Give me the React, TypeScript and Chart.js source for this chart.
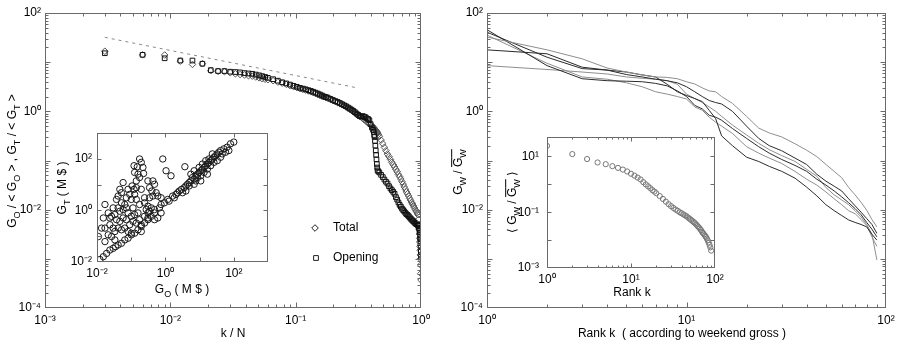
import React, { useEffect, useRef } from 'react';
import { Chart, registerables } from 'chart.js';
Chart.register(...registerables);

const FONT = '"Liberation Sans", Arial, Helvetica, sans-serif';

// ---------------- Left panel: G/<G> versus k/N ----------------
const N_FILMS = 333;
const RANKS_L = [
  1, 2, 3, 4, 5, 6, 7, 8, 9, 10,
  11, 12, 13, 14, 15, 16, 17, 18, 19, 20,
  22, 24, 26, 28, 30, 32, 34, 36, 38, 40,
  42, 44, 46, 48, 50, 52, 54, 56, 58, 60,
  63, 66, 69, 72, 75, 78, 81, 84, 87, 90,
  93, 96, 99, 102, 105, 108, 111, 114, 117, 120,
  123, 126, 129, 132, 135, 138, 140, 141, 142, 143,
  144, 145, 146, 147, 148, 149, 150, 152, 155, 160,
  165, 170, 175, 180, 185, 190, 195, 200, 205, 210,
  215, 220, 225, 230, 235, 240, 245, 250, 255, 260,
  265, 270, 275, 280, 285, 290, 295, 300, 305, 310,
  315, 318, 320, 322, 324, 325, 326, 327, 328, 329,
  330, 331, 332, 333,
];
const OPENING = [
  15.2, 14.1, 12.0, 10.8, 10.8, 9.3, 6.9, 6.6, 6.6, 6.4,
  6.3, 6.2, 6.0, 5.9, 5.8, 5.6, 5.4, 5.2, 5.0, 4.8,
  4.5, 4.2, 3.9, 3.7, 3.5, 3.3, 3.15, 3.0, 2.9, 2.8,
  2.7, 2.6, 2.5, 2.4, 2.3, 2.2, 2.1, 2.0, 1.95, 1.9,
  1.8, 1.7, 1.62, 1.55, 1.48, 1.40, 1.33, 1.27, 1.20, 1.14,
  1.08, 1.02, 0.96, 0.90, 0.85, 0.80, 0.78, 0.80, 0.78, 0.76,
  0.72, 0.70, 0.66, 0.55, 0.47, 0.42, 0.38, 0.33, 0.30, 0.25,
  0.20, 0.16, 0.13, 0.105, 0.085, 0.072, 0.063, 0.060, 0.057, 0.051,
  0.046, 0.041, 0.037, 0.034, 0.030, 0.027, 0.025, 0.023, 0.021, 0.018,
  0.016, 0.014, 0.0125, 0.0115, 0.0105, 0.0098, 0.0092, 0.0086, 0.0081, 0.0078,
  0.0074, 0.0070, 0.0066, 0.0063, 0.0060, 0.0058, 0.0055, 0.0053, 0.0051, 0.0050,
  0.0048, 0.0046, 0.0044, 0.0042, 0.0038, 0.0035, 0.0033, 0.0030, 0.0028, 0.0025,
  0.0021, 0.0018, 0.0014, 0.0011,
];
const TOTAL = [
  16.7, 14.1, 14.0, 10.5, 9.0, 9.3, 6.7, 6.5, 6.4, 6.1,
  5.8, 5.6, 5.5, 5.3, 5.2, 5.0, 4.8, 4.6, 4.5, 4.4,
  4.2, 3.95, 3.75, 3.55, 3.35, 3.2, 3.05, 2.9, 2.8, 2.7,
  2.6, 2.5, 2.4, 2.3, 2.2, 2.12, 2.05, 1.98, 1.9, 1.85,
  1.75, 1.65, 1.58, 1.50, 1.43, 1.36, 1.30, 1.23, 1.17, 1.11,
  1.05, 0.99, 0.93, 0.88, 0.82, 0.80, 0.76, 0.72, 0.68, 0.65,
  0.61, 0.58, 0.55, 0.53, 0.51, 0.48, 0.46, 0.45, 0.44, 0.43,
  0.42, 0.41, 0.40, 0.39, 0.38, 0.37, 0.36, 0.34, 0.31, 0.26,
  0.22, 0.185, 0.158, 0.135, 0.12, 0.105, 0.092, 0.082, 0.074, 0.066,
  0.059, 0.052, 0.047, 0.042, 0.037, 0.033, 0.029, 0.026, 0.023, 0.021,
  0.019, 0.017, 0.0155, 0.014, 0.013, 0.012, 0.011, 0.010, 0.0093, 0.0086,
  0.0079, 0.0063, 0.0050, 0.0040, 0.0032, 0.0026, 0.0022, 0.0018, 0.0015, 0.0012,
  0.0010, 0.00075, 0.0005, 0.00037,
];
// dashed power-law guide (end points)
const FIT_X = [0.003, 0.31];
const FIT_Y = [32, 3.0];

// Left inset: opening gross vs total gross (M$)
const INSET_GO_GT: [number, number][] = [
  [0.176, 98.5], [0.197, 72.9], [0.121, 54], [0.151, 49.3], [0.22, 46.4], [0.126, 29.6], [0.158, 25.4], [0.23, 27],
  [0.176, 18.8], [0.141, 13.9], [0.106, 8.87], [0.308, 13.9], [0.43, 13.9], [0.48, 10.3], [0.344, 7.62], [0.402, 5.65],
  [0.537, 4.85], [0.081, 6.56], [0.121, 6.56], [0.141, 7.62], [0.058, 12], [0.0465, 6.56], [0.0519, 4.85], [0.0906, 4.18],
  [0.0724, 3.09], [0.0415, 3.6], [0.0372, 2.66], [0.0519, 1.97], [0.101, 2.66], [0.141, 2.66], [0.246, 3.09], [0.344, 3.09],
  [0.43, 3.6], [0.6, 3.6], [0.748, 3.09], [0.838, 98.5], [1.045, 34.4], [1.46, 21.9], [3.71, 49.3], [0.246, 1.97],
  [0.308, 1.46], [0.385, 1.25], [0.275, 1.08], [0.344, 0.927], [0.48, 1.08], [0.0171, 1.69], [0.0153, 0.508], [0.0136, 0.206],
  [0.011, 0.097], [0.0171, 0.206], [0.0213, 0.798], [0.0266, 0.59], [0.0333, 0.687], [0.0415, 1.25], [0.0465, 0.927], [0.058, 1.08],
  [0.0724, 1.25], [0.081, 0.798], [0.0372, 0.437], [0.0465, 0.376], [0.058, 0.508], [0.0724, 0.437], [0.101, 0.59], [0.126, 0.687],
  [0.158, 0.798], [0.0906, 0.278], [0.113, 0.376], [0.141, 0.324], [0.176, 0.437], [0.197, 0.278], [0.0238, 0.278], [0.0297, 0.206],
  [0.0333, 0.152], [0.0415, 0.206], [0.0519, 0.177], [0.0649, 0.206], [0.081, 0.152], [0.101, 0.131], [0.0213, 0.113], [0.0266, 0.097],
  [0.0171, 0.0618], [0.0333, 0.0718], [0.246, 0.59], [0.308, 0.508], [0.197, 0.152], [0.48, 0.437], [0.6, 0.508], [0.748, 0.798],
  [0.308, 0.798], [0.0649, 1.69], [0.0297, 1.25], [0.0238, 0.508], [0.113, 1.25], [0.176, 1.69], [0.126, 4.18], [0.197, 6.56],
  [0.0122, 0.0125], [0.0153, 0.016], [0.0191, 0.0215], [0.0238, 0.0291], [0.0297, 0.0338], [0.0348, 0.0394], [0.0415, 0.0457], [0.0519, 0.0531],
  [0.0649, 0.0718], [0.081, 0.0836], [0.101, 0.113], [0.126, 0.131], [0.158, 0.177], [0.197, 0.239], [0.246, 0.324], [0.308, 0.437],
  [0.385, 0.59], [0.48, 0.798], [0.67, 1.25], [0.935, 1.97], [1.17, 2.66], [1.63, 3.6], [2.04, 4.18], [2.55, 5.65],
  [2.97, 6.56], [3.56, 7.62], [3.97, 8.87], [4.44, 10.3], [4.96, 12], [5.55, 13.9], [6.2, 18.8], [6.93, 16.2],
  [7.74, 21.9], [8.65, 25.4], [9.68, 29.6], [10.8, 34.4], [12.1, 39.9], [13.5, 46.4], [15.1, 54], [16.9, 62.7],
  [18.8, 72.9], [21.1, 84.8], [23.6, 98.5], [26.3, 115], [29.4, 133], [32.9, 155], [36.7, 180], [41.1, 209],
  [51.3, 243], [64.1, 283], [80, 382], [100, 444], [5.55, 25.4], [6.93, 34.4], [8.65, 18.8], [10.8, 21.9],
  [13.5, 29.6], [16.9, 39.9], [21.1, 54], [26.3, 72.9], [32.9, 84.8], [41.1, 115], [45.9, 155], [57.4, 180],
  [71.6, 209], [23.6, 155], [18.8, 98.5], [15.1, 84.8], [12.1, 62.7], [9.68, 46.4], [7.74, 13.9], [4.96, 8.87],
  [3.97, 5.65], [3.18, 4.85], [6.93, 10.3], [10.8, 13.9], [16.9, 25.4], [0.748, 1.69], [1.28, 2.29], [1.82, 3.09],
  [2.28, 4.85],
];

// ---------------- Right panel: weekend gross by rank ----------------
const RANKS_W = [1, 2, 3, 4, 5, 6, 7, 8, 9, 10, 11, 12, 13, 14, 15, 17, 20, 23, 26, 30, 35, 40, 45, 50, 55, 60, 65, 70, 75, 80, 85, 90];
const WEEKEND_A = [32.4, 17.8, 11.7, 7.6, 6.3, 5.5, 5.0, 4.9, 4.6, 4.0, 3.6, 3.0, 2.6, 2.5, 2.0, 1.45, 0.79, 0.457, 0.363, 0.302, 0.219, 0.162, 0.120, 0.083, 0.060, 0.0447, 0.0282, 0.0200, 0.0141, 0.0098, 0.0063, 0.00447];
const WEEKEND_B = [40.7, 12.6, 7.4, 6.9, 6.3, 5.5, 5.0, 3.55, 2.5, 2.1, 1.82, 1.58, 1.05, 0.71, 0.316, 0.20, 0.117, 0.0955, 0.0759, 0.0603, 0.0437, 0.0288, 0.0191, 0.0126, 0.00955, 0.00759, 0.00617, 0.0055, 0.0050, 0.00447, 0.00316, 0.0024];
const WEEKEND_C = [45.7, 8.5, 4.6, 4.2, 4.1, 4.0, 3.7, 3.3, 2.6, 2.0, 1.32, 1.12, 0.83, 0.76, 0.66, 0.447, 0.282, 0.191, 0.141, 0.105, 0.0794, 0.0603, 0.0417, 0.0316, 0.024, 0.0182, 0.0138, 0.0105, 0.0079, 0.0055, 0.0040, 0.0028];
const WEEKEND_D = [17.8, 14.8, 7.9, 6.9, 5.6, 5.0, 4.5, 4.2, 3.8, 3.16, 2.5, 2.0, 1.66, 1.51, 1.41, 1.0, 0.50, 0.282, 0.20, 0.158, 0.112, 0.083, 0.0525, 0.038, 0.030, 0.024, 0.0166, 0.012, 0.0089, 0.0066, 0.0050, 0.0033];
const WEEKEND_E = [8.5, 7.1, 6.3, 5.75, 5.0, 4.7, 4.5, 4.2, 3.55, 2.24, 1.82, 1.51, 1.23, 1.0, 0.79, 0.525, 0.331, 0.224, 0.166, 0.126, 0.0955, 0.066, 0.0479, 0.0282, 0.020, 0.0158, 0.0126, 0.0095, 0.0071, 0.0050, 0.0032, 0.00095];
const WEEKEND_F = [35.5, 9.5, 5.0, 4.5, 3.8, 3.16, 2.5, 2.24, 2.0, 1.78, 1.23, 1.05, 0.76, 0.60, 0.50, 0.355, 0.191, 0.141, 0.112, 0.087, 0.060, 0.0417, 0.0316, 0.0229, 0.0166, 0.0126, 0.0095, 0.0083, 0.0063, 0.0048, 0.0028, 0.0018];

// Right inset: average over weekends
const RANKS_AVG = [1, 2, 3, 4, 5, 6, 7, 8, 9, 10, 11, 12, 13, 14, 15, 16, 17, 18, 19, 20,
  22, 24, 26, 28, 30, 32, 34, 36, 38, 40, 42, 44, 46, 48, 50, 52, 54, 56, 58, 60,
  62, 64, 66, 68, 70, 72, 74, 76, 78, 80, 82, 84, 86, 88, 90];
const AVG = [24, 12.2, 8.1, 6.1, 5.3, 4.5, 3.9, 3.4, 2.9, 2.4, 2.05, 1.75, 1.5, 1.2, 1.0, 0.85, 0.73, 0.62, 0.55, 0.48,
  0.38, 0.30, 0.24, 0.195, 0.165, 0.142, 0.125, 0.112, 0.100, 0.092, 0.084, 0.077, 0.071, 0.064, 0.058, 0.053, 0.048, 0.044, 0.040, 0.036,
  0.032, 0.029, 0.026, 0.023, 0.020, 0.018, 0.016, 0.0145, 0.013, 0.0114, 0.0098, 0.0082, 0.0068, 0.0055, 0.0042];

// tick labels (decades)
const MAIN_Y_LABELS = [1e-4, 1e-2, 1, 1e2];
const LEFT_X_LABELS = [1e-3, 1e-2, 1e-1, 1];
const RIGHT_X_LABELS = [1, 10, 100];
const INSET_L_LABELS = [1e-2, 1, 1e2];
const INSET_R_X_LABELS = [1, 10, 100];
const INSET_R_Y_LABELS = [1e-3, 1e-1, 10];

// ---------------- helpers ----------------
const SUP: Record<string, string> = { '0': '⁰', '1': '¹', '2': '²', '3': '³', '4': '⁴', '5': '⁵', '6': '⁶', '7': '⁷', '8': '⁸', '9': '⁹', '-': '⁻' };
function pow10Label(v: number): string {
  const e = Math.round(Math.log10(v));
  return '10' + String(e).split('').map((c) => SUP[c] || c).join('');
}

type Seg = { t: string; sub?: boolean; bar?: boolean };
type Title = { segs: Seg[]; x: number; y: number; rot?: boolean };
type LegendItem = { x: number; y: number; tx: number; shape: 'diamond' | 'square'; text: string };
type Spec = {
  box: [number, number, number, number];
  plot: [number, number, number, number];
  xr: [number, number];
  yr: [number, number];
  xLabels: number[];
  yLabels: number[];
  xMinor: boolean;
  yMinor: boolean;
  xPad: number;
  yPad: number;
  major: number;
  minor: number;
  fill: boolean;
  datasets: any[];
  titles: Title[];
  legend?: LegendItem[];
};

function drawRich(ctx: CanvasRenderingContext2D, segs: Seg[], x: number, y: number, rot?: boolean) {
  const size = 12;
  const sub = 9;
  ctx.save();
  ctx.translate(x, y);
  if (rot) ctx.rotate(-Math.PI / 2);
  const fontOf = (s: Seg) => `${s.sub ? sub : size}px ${FONT}`;
  let total = 0;
  const ws = segs.map((s) => {
    ctx.font = fontOf(s);
    const w = ctx.measureText(s.t).width;
    total += w;
    return w;
  });
  let cx = -total / 2;
  const base = size * 0.36;
  ctx.fillStyle = '#000';
  ctx.textBaseline = 'alphabetic';
  ctx.textAlign = 'left';
  segs.forEach((s, i) => {
    ctx.font = fontOf(s);
    ctx.fillText(s.t, cx, s.sub ? base + 3.5 : base);
    if (s.bar) ctx.fillRect(cx, base - size * 0.72 - 2.5, ws[i], 1);
    cx += ws[i];
  });
  ctx.restore();
}

function makeDecor(spec: Spec) {
  const [bx, by] = spec.box;
  return {
    id: 'decor',
    beforeDraw(chart: any) {
      if (!spec.fill) return;
      const a = chart.chartArea;
      const ctx = chart.ctx;
      ctx.save();
      ctx.fillStyle = '#fff';
      ctx.fillRect(a.left, a.top, a.right - a.left, a.bottom - a.top);
      ctx.restore();
    },
    afterDraw(chart: any) {
      const ctx: CanvasRenderingContext2D = chart.ctx;
      const a = chart.chartArea;
      const L = Math.round(a.left) + 0.5;
      const R = Math.round(a.right) - 0.5;
      const T = Math.round(a.top) + 0.5;
      const B = Math.round(a.bottom) - 0.5;
      ctx.save();
      ctx.strokeStyle = '#6a6a6a';
      ctx.lineWidth = 1;
      ctx.strokeRect(L, T, R - L, B - T);
      const ticks = (scale: any, horizontal: boolean, minor: boolean) => {
        const lo = Math.floor(Math.log10(scale.min));
        const hi = Math.ceil(Math.log10(scale.max));
        const mults = minor ? [1, 2, 3, 4, 5, 6, 7, 8, 9] : [1];
        for (let e = lo; e <= hi; e++) {
          for (const m of mults) {
            const v = m * Math.pow(10, e);
            if (v < scale.min * 1.0001 || v > scale.max * 0.9999) continue;
            const len = m === 1 ? spec.major : spec.minor;
            const p = Math.round(scale.getPixelForValue(v)) + 0.5;
            ctx.beginPath();
            if (horizontal) {
              ctx.moveTo(p, B); ctx.lineTo(p, B - len);
              ctx.moveTo(p, T); ctx.lineTo(p, T + len);
            } else {
              ctx.moveTo(L, p); ctx.lineTo(L + len, p);
              ctx.moveTo(R, p); ctx.lineTo(R - len, p);
            }
            ctx.stroke();
          }
        }
      };
      ticks(chart.scales.x, true, spec.xMinor);
      ticks(chart.scales.y, false, spec.yMinor);
      ctx.restore();

      spec.titles.forEach((t) => drawRich(ctx, t.segs, t.x - bx, t.y - by, t.rot));

      if (spec.legend) {
        ctx.save();
        ctx.strokeStyle = '#222';
        ctx.lineWidth = 1;
        spec.legend.forEach((it) => {
          const x = it.x - bx;
          const y = it.y - by;
          ctx.beginPath();
          if (it.shape === 'diamond') {
            const r = 3.3;
            ctx.moveTo(x, y - r); ctx.lineTo(x + r, y); ctx.lineTo(x, y + r); ctx.lineTo(x - r, y); ctx.closePath();
          } else {
            const s = 2.4;
            ctx.rect(x - s, y - s, 2 * s, 2 * s);
          }
          ctx.stroke();
          ctx.font = `12px ${FONT}`;
          ctx.fillStyle = '#000';
          ctx.textBaseline = 'middle';
          ctx.textAlign = 'left';
          ctx.fillText(it.text, it.tx - bx, y);
        });
        ctx.restore();
      }
    },
  };
}

// The axis box is given the whole margin so its tick labels are not clipped away.
function logAxis(range: [number, number], labels: number[], pad: number, axis: 'x' | 'y', size: number) {
  return {
    type: 'logarithmic',
    min: range[0],
    max: range[1],
    bounds: 'data',
    grid: { display: false, drawTicks: false },
    border: { display: false },
    ticks: {
      autoSkip: false,
      maxRotation: 0,
      minRotation: 0,
      padding: pad,
      color: '#000',
      font: { family: FONT, size: 12 },
      callback: (v: any) => pow10Label(Number(v)),
    },
    afterBuildTicks: (s: any) => {
      s.ticks = labels.map((v) => ({ value: v }));
    },
    afterFit: (s: any) => {
      if (axis === 'x') s.height = size;
      else s.width = size;
      s.paddingLeft = 0;
      s.paddingRight = 0;
      s.paddingTop = 0;
      s.paddingBottom = 0;
    },
  };
}

function Panel({ spec }: { spec: Spec }) {
  const ref = useRef<HTMLCanvasElement>(null);
  useEffect(() => {
    const [bx, by, bw, bh] = spec.box;
    const [pl, pt, pr, pb] = spec.plot;
    const chart = new Chart(ref.current as HTMLCanvasElement, {
      type: 'scatter',
      data: { datasets: spec.datasets },
      options: {
        responsive: false,
        animation: false,
        devicePixelRatio: 1,
        events: [],
        layout: { padding: { left: 0, top: pt - by, right: bx + bw - pr, bottom: 0 } },
        plugins: { legend: { display: false }, tooltip: { enabled: false } },
        scales: {
          x: logAxis(spec.xr, spec.xLabels, spec.xPad, 'x', by + bh - pb) as any,
          y: logAxis(spec.yr, spec.yLabels, spec.yPad, 'y', pl - bx) as any,
        },
      },
      plugins: [makeDecor(spec) as any],
    });
    return () => chart.destroy();
  }, [spec]);
  const [bx, by, bw, bh] = spec.box;
  return (
    <canvas
      ref={ref}
      width={bw}
      height={bh}
      style={{ position: 'absolute', left: bx, top: by, width: bw, height: bh }}
    />
  );
}

// ---------------- specs ----------------
const BLACK = '#2b2b2b';
const GREY = '#8e8e8e';

const leftMain: Spec = {
  box: [0, 0, 450, 346],
  plot: [45, 13, 421, 308],
  xr: [1e-3, 1],
  yr: [1e-4, 1e2],
  xLabels: LEFT_X_LABELS,
  yLabels: MAIN_Y_LABELS,
  xMinor: true,
  yMinor: true,
  xPad: 5,
  yPad: 4,
  major: 5,
  minor: 3,
  fill: false,
  datasets: [
    {
      label: 'Opening',
      data: RANKS_L.map((k, i) => ({ x: k / N_FILMS, y: OPENING[i] })),
      pointStyle: 'rect',
      pointRadius: 3.3,
      borderColor: '#111',
      backgroundColor: 'rgba(0,0,0,0)',
      borderWidth: 1,
    },
    {
      label: 'Total',
      data: RANKS_L.map((k, i) => ({ x: k / N_FILMS, y: TOTAL[i] })),
      pointStyle: 'rectRot',
      pointRadius: 3.3,
      borderColor: '#555',
      backgroundColor: 'rgba(0,0,0,0)',
      borderWidth: 1,
    },
    {
      label: 'fit',
      data: FIT_X.map((x, i) => ({ x, y: FIT_Y[i] })),
      showLine: true,
      pointRadius: 0,
      borderColor: '#888',
      borderWidth: 1,
      borderDash: [3, 4],
    },
  ],
  titles: [
    {
      segs: [
        { t: 'G' }, { t: 'O', sub: true }, { t: ' / < G' }, { t: 'O', sub: true }, { t: ' > , G' },
        { t: 'T', sub: true }, { t: ' / < G' }, { t: 'T', sub: true }, { t: ' >' },
      ],
      x: 12,
      y: 161,
      rot: true,
    },
    { segs: [{ t: 'k / N' }], x: 233, y: 333 },
  ],
  legend: [
    { x: 315, y: 228, tx: 333, shape: 'diamond', text: 'Total' },
    { x: 316, y: 258, tx: 333, shape: 'square', text: 'Opening' },
  ],
};

const leftInset: Spec = {
  box: [50, 125, 230, 175],
  plot: [97, 133, 268, 262],
  xr: [1e-2, 1e3],
  yr: [1e-2, 1e3],
  xLabels: INSET_L_LABELS,
  yLabels: INSET_L_LABELS,
  xMinor: false,
  yMinor: false,
  xPad: 4,
  yPad: 5,
  major: 4,
  minor: 2,
  fill: true,
  datasets: [
    {
      label: 'films',
      data: INSET_GO_GT.map(([x, y]) => ({ x, y })),
      pointStyle: 'circle',
      pointRadius: 3.2,
      borderColor: '#1a1a1a',
      backgroundColor: 'rgba(0,0,0,0)',
      borderWidth: 1,
    },
  ],
  titles: [
    { segs: [{ t: 'G' }, { t: 'O', sub: true }, { t: ' ( M $ )' }], x: 182, y: 289 },
    { segs: [{ t: 'G' }, { t: 'T', sub: true }, { t: ' ( M $ )' }], x: 62, y: 188, rot: true },
  ],
};

const weekendSeries: { vals: number[]; color: string }[] = [
  { vals: WEEKEND_A, color: GREY },
  { vals: WEEKEND_B, color: BLACK },
  { vals: WEEKEND_C, color: BLACK },
  { vals: WEEKEND_D, color: BLACK },
  { vals: WEEKEND_E, color: GREY },
  { vals: WEEKEND_F, color: GREY },
];

const rightMain: Spec = {
  box: [450, 0, 449, 346],
  plot: [487, 13, 886, 308],
  xr: [1, 100],
  yr: [1e-4, 1e2],
  xLabels: RIGHT_X_LABELS,
  yLabels: MAIN_Y_LABELS,
  xMinor: true,
  yMinor: true,
  xPad: 5,
  yPad: 4,
  major: 5,
  minor: 3,
  fill: false,
  datasets: weekendSeries.map((s, j) => ({
    label: 'weekend ' + (j + 1),
    data: RANKS_W.map((k, i) => ({ x: k, y: s.vals[i] })),
    showLine: true,
    pointRadius: 0,
    borderColor: s.color,
    borderWidth: 1,
  })),
  titles: [
    { segs: [{ t: 'G' }, { t: 'W', sub: true }, { t: ' / ' }, { t: 'G', bar: true }, { t: 'W', sub: true, bar: true }], x: 458, y: 172, rot: true },
    { segs: [{ t: 'Rank k  ( according to weekend gross )' }], x: 682, y: 333 },
  ],
};

const rightInset: Spec = {
  box: [495, 128, 230, 175],
  plot: [547, 137, 715, 268],
  xr: [1, 100],
  yr: [1e-3, 50],
  xLabels: INSET_R_X_LABELS,
  yLabels: INSET_R_Y_LABELS,
  xMinor: true,
  yMinor: false,
  xPad: 4,
  yPad: 8,
  major: 4,
  minor: 2,
  fill: true,
  datasets: [
    {
      label: 'average',
      data: RANKS_AVG.map((k, i) => ({ x: k, y: AVG[i] })),
      pointStyle: 'circle',
      pointRadius: 2.6,
      borderColor: '#777',
      backgroundColor: 'rgba(0,0,0,0)',
      borderWidth: 1,
    },
  ],
  titles: [
    { segs: [{ t: 'Rank k' }], x: 632, y: 292 },
    {
      segs: [{ t: '⟨ G' }, { t: 'W', sub: true }, { t: ' / ' }, { t: 'G', bar: true }, { t: 'W', sub: true, bar: true }, { t: ' ⟩' }],
      x: 512,
      y: 202,
      rot: true,
    },
  ],
};

export default function App() {
  return (
    <div style={{ position: 'absolute', left: 0, top: 0, width: 899, height: 346, background: '#fff', overflow: 'hidden' }}>
      <Panel spec={leftMain} />
      <Panel spec={rightMain} />
      <Panel spec={leftInset} />
      <Panel spec={rightInset} />
    </div>
  );
}
